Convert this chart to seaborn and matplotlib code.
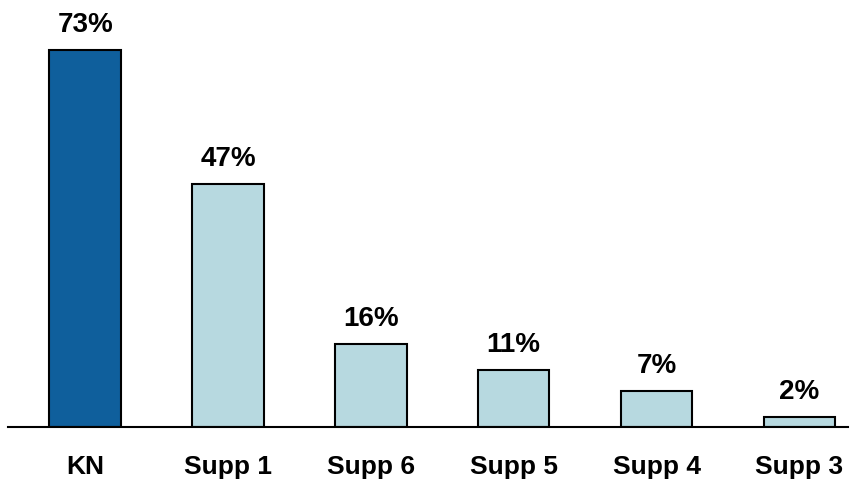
import matplotlib
matplotlib.use("Agg")
import matplotlib.pyplot as plt
import seaborn as sns
import pandas as pd

categories = ["KN", "Supp 1", "Supp 6", "Supp 5", "Supp 4", "Supp 3"]
values = [73, 47, 16, 11, 7, 2]
labels = ["73%", "47%", "16%", "11%", "7%", "2%"]
colors = ["#0F5F9C", "#B7D9E0", "#B7D9E0", "#B7D9E0", "#B7D9E0", "#B7D9E0"]

sns.set_theme(style="white")
plt.rcParams['font.family'] = ['Liberation Sans', 'DejaVu Sans']

df = pd.DataFrame({"cat": categories, "val": values})
fig = plt.figure(figsize=(8.62, 4.79), dpi=100)
ax = fig.add_axes([8/862, 1-427/479, 840/862, 413/479])
sns.barplot(data=df, x="cat", y="val", hue="cat", palette=colors, legend=False,
            width=0.5, edgecolor="black", linewidth=1.5, ax=ax, saturation=1)
ax.set_xlim(-0.54, 5.34)
ax.set_ylim(0, 80)
for i, (v, t) in enumerate(zip(values, labels)):
    ax.annotate(t, (i, v), xytext=(0, 13), textcoords="offset points",
                ha="center", va="baseline", fontsize=20, fontweight="bold", color="black")
for s in ["top", "right", "left"]:
    ax.spines[s].set_visible(False)
ax.spines["bottom"].set_color("black")
ax.spines["bottom"].set_linewidth(1.5)
ax.set_yticks([])
ax.set_xlabel("")
ax.set_ylabel("")
ax.tick_params(axis="x", length=0, pad=20, labelsize=19, labelcolor="black")
for lab in ax.get_xticklabels():
    lab.set_fontweight("bold")
fig.savefig("out.png", dpi=100, facecolor="white")
